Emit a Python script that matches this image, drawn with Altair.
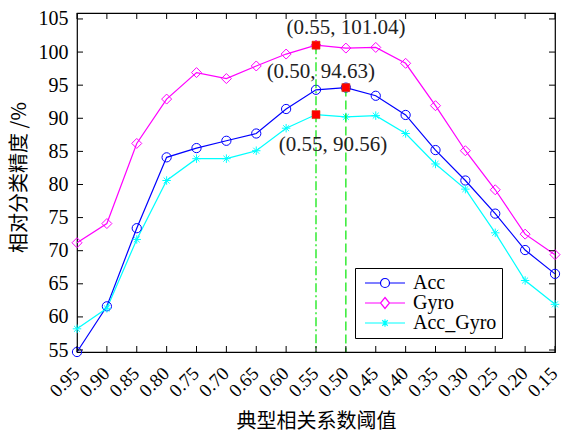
import altair as alt
import pandas as pd

# Classification accuracy (%) against the canonical-correlation threshold
thresholds = [0.95, 0.90, 0.85, 0.80, 0.75, 0.70, 0.65, 0.60, 0.55,
              0.50, 0.45, 0.40, 0.35, 0.30, 0.25, 0.20, 0.15]
acc = [54.7, 61.6, 73.4, 84.1, 85.5, 86.6, 87.7, 91.4, 94.3,
       94.63, 93.4, 90.5, 85.2, 80.6, 75.6, 70.1, 66.5]
gyro = [71.2, 74.1, 86.2, 92.9, 96.9, 96.0, 97.9, 99.7, 101.04,
        100.6, 100.7, 98.3, 91.9, 85.1, 79.2, 72.5, 69.4]
acc_gyro = [58.2, 61.3, 71.7, 80.6, 83.9, 83.9, 85.1, 88.5, 90.56,
            90.2, 90.4, 87.7, 83.1, 79.3, 72.7, 65.5, 61.9]

series_names = ["Acc", "Gyro", "Acc_Gyro"]
series_values = [acc, gyro, acc_gyro]
series_colors = ["#0000ff", "#ff00ff", "#00ffff"]
y_ticks = [55, 60, 65, 70, 75, 80, 85, 90, 95, 100, 105]
y_range = [54.7, 105.9]

W, H = 478, 339
SERIF = "Liberation Serif"
CJK = "Noto Sans CJK SC"
GREEN = "#00e600"

rows = []
for name, vals in zip(series_names, series_values):
    for t, v in zip(thresholds, vals):
        rows.append({"series": name, "threshold": t, "accuracy": v})
df = pd.DataFrame(rows)

# peak of every series, labelled with its coordinates
peaks = df.loc[df.groupby("series", sort=False)["accuracy"].idxmax()].reset_index(drop=True)
peaks["label"] = peaks.apply(lambda r: f"({r.threshold:.2f}, {r.accuracy:.2f})", axis=1)

x_enc = alt.X(
    "threshold:Q",
    scale=alt.Scale(domain=[0.15, 0.95], reverse=True, nice=False, zero=False),
    axis=alt.Axis(
        values=thresholds, format=".2f", labelAngle=315, labelAlign="right",
        labelBaseline="middle", labelPadding=18, labelOffset=-1, tickSize=0,
        domain=False, grid=False, labelFont=SERIF, labelFontSize=19,
        labelColor="black", labelOverlap=False, labelBound=False,
        title="典型相关系数阈值", titleFont=CJK, titleFontSize=20,
        titleFontWeight="normal", titleColor="black", titleY=69,
        titleBaseline="middle",
    ),
)
y_enc = alt.Y(
    "accuracy:Q",
    scale=alt.Scale(domain=y_range, nice=False, zero=False),
    axis=alt.Axis(
        values=y_ticks, tickSize=0, domain=False, grid=False, labelPadding=9,
        labelFont=SERIF, labelFontSize=20, labelColor="black",
        title="相对分类精度 /%", titleFont=CJK, titleFontSize=20,
        titleFontWeight="normal", titleColor="black", titleX=-58, titleY=164,
        titleBaseline="middle",
    ),
)

lines = [
    alt.Chart(df[df.series == name]).mark_line(strokeWidth=1.2, color=col).encode(
        x=x_enc, y=y_enc)
    for name, col in zip(series_names, series_colors)
]

ASTERISK = "M-1,0L1,0M0,-1L0,1M-0.7,-0.7L0.7,0.7M-0.7,0.7L0.7,-0.7"
marker_shapes = {"Acc": ("circle", 85), "Gyro": ("diamond", 100), "Acc_Gyro": (ASTERISK, 72)}
markers = [
    alt.Chart(df[df.series == name]).mark_point(
        shape=shape, size=size, filled=False, strokeWidth=1, color=col, opacity=1
    ).encode(x=x_enc, y=y_enc)
    for (name, (shape, size)), col in zip(marker_shapes.items(), series_colors)
]

# legend symbols: a short line with the series marker on it
legend_shapes = [
    "M-1,0L2.1,0M3.9,0L7,0M2.1,0A0.9,0.9 0 1,0 3.9,0A0.9,0.9 0 1,0 2.1,0",
    "M-1,0L2.1,0M3.9,0L7,0M3,-1.1L3.9,0L3,1.1L2.1,0Z",
    "M-1,0L7,0M3,-0.75L3,0.75M2.45,-0.55L3.55,0.55M2.45,0.55L3.55,-0.55",
]
legend_layer = alt.Chart(df).mark_point(opacity=0, filled=False).encode(
    x=x_enc, y=y_enc,
    color=alt.Color("series:N", scale=alt.Scale(domain=series_names, range=series_colors),
                    legend=alt.Legend(
        title=None, orient="none", legendX=278, legendY=255,
        strokeColor="black", fillColor="white", padding=5, cornerRadius=0,
        symbolSize=100, symbolStrokeWidth=1.2, symbolOpacity=1,
        labelFont=SERIF, labelFontSize=20, labelColor="black",
        labelOffset=33, rowPadding=0,
    )),
    shape=alt.Shape("series:N", scale=alt.Scale(domain=series_names, range=legend_shapes)),
)

# green guides from the peaks down to the x axis
guide_gyro = alt.Chart(peaks[peaks.series == "Gyro"]).mark_rule(
    color=GREEN, strokeWidth=1.2, strokeDash=[9, 3, 2, 3]
).encode(x=x_enc, y=y_enc, y2=alt.datum(y_range[0]))
guide_acc = alt.Chart(peaks[peaks.series == "Acc"]).mark_rule(
    color=GREEN, strokeWidth=1.2, strokeDash=[9, 4]
).encode(x=x_enc, y=y_enc, y2=alt.datum(y_range[0]))

squares = alt.Chart(peaks).mark_square(
    size=64, filled=True, color="#ff0000", stroke="#d04010", strokeWidth=0.6, opacity=1
).encode(x=x_enc, y=y_enc)

label_offsets = {"Gyro": (30, -17), "Acc": (-25, -16), "Acc_Gyro": (17, 30)}
labels = [
    alt.Chart(peaks[peaks.series == name]).mark_text(
        font=SERIF, fontSize=21, color="#222222", dx=dx, dy=dy,
        align="center", baseline="middle",
    ).encode(x=x_enc, y=y_enc, text="label:N")
    for name, (dx, dy) in label_offsets.items()
]

# inward ticks on all four sides of the box
xt = pd.DataFrame({"threshold": thresholds})
yt = pd.DataFrame({"accuracy": y_ticks})
TK = 6
ticks = [
    alt.Chart(xt).mark_rule(color="black", strokeWidth=1).encode(
        x=x_enc, y=alt.value(H), y2=alt.value(H - TK)),
    alt.Chart(xt).mark_rule(color="black", strokeWidth=1).encode(
        x=x_enc, y=alt.value(0), y2=alt.value(TK)),
    alt.Chart(yt).mark_rule(color="black", strokeWidth=1).encode(
        y=y_enc, x=alt.value(0), x2=alt.value(TK)),
    alt.Chart(yt).mark_rule(color="black", strokeWidth=1).encode(
        y=y_enc, x=alt.value(W), x2=alt.value(W - TK)),
]

chart = alt.layer(
    *lines, *markers, guide_gyro, guide_acc, squares, *labels, *ticks, legend_layer
).properties(
    width=W, height=H,
    autosize=alt.AutoSizeParams(type="none"),
    padding={"left": 77, "top": 13, "right": 8, "bottom": 82},
    background="white",
).configure_view(
    stroke="black", strokeWidth=1.2
)

chart.save("out.html", embed_options={"renderer": "svg", "actions": False})
